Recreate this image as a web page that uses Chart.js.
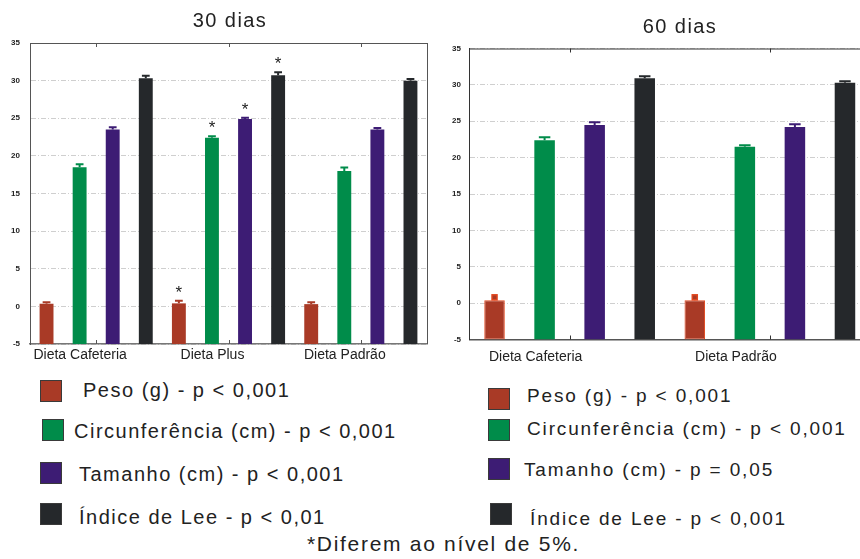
<!DOCTYPE html>
<html><head><meta charset="utf-8">
<script src="https://cdn.jsdelivr.net/npm/chart.js@4.4.0/dist/chart.umd.min.js"></script>
<style>
html,body{margin:0;padding:0;width:860px;height:559px;overflow:hidden;background:#fff;font-family:"Liberation Sans",Arial,sans-serif;position:relative}
.wrap{position:absolute;}
.txt{position:absolute;white-space:nowrap;color:#222;line-height:normal}
.sw{position:absolute;width:22px;height:22px;border:1px solid #3a3a3a;box-sizing:border-box}
</style></head>
<body>
<div class="wrap" id="w30" style="left:0;top:0;width:440px;height:372px"><canvas id="c30"></canvas></div>
<div class="wrap" id="w60" style="left:440px;top:0;width:440px;height:372px"><canvas id="c60"></canvas></div>
<div id="texts"></div>
<script>
// ---- data ----
const yTicks = { min: -5, max: 35, step: 5 };
const seriesNames = ['Peso (g)', 'Circunferência (cm)', 'Tamanho (cm)', 'Índice de Lee'];
const seriesColors = ['#a93a26', '#008c4a', '#3d1c74', '#25282b'];

const categories30 = ['Dieta Cafeteria', 'Dieta Plus', 'Dieta Padrão'];
const peso30 = [0.35, 0.4, 0.3];
const peso30Err = [0.2, 0.35, 0.25];
const circ30 = [18.5, 22.4, 18.0];
const circ30Err = [0.4, 0.2, 0.45];
const tam30 = [23.5, 24.9, 23.5];
const tam30Err = [0.3, 0.15, 0.2];
const lee30 = [30.3, 30.7, 30.0];
const lee30Err = [0.35, 0.4, 0.2];
const pesoSig30 = [false, true, false];
const circSig30 = [false, true, false];
const tamSig30 = [false, true, false];
const leeSig30 = [false, true, false];

const categories60 = ['Dieta Cafeteria', 'Dieta Padrão'];
const peso60 = [0.4, 0.4];
const peso60Err = [0.4, 0.4];
const circ60 = [22.4, 21.5];
const circ60Err = [0.4, 0.2];
const tam60 = [24.5, 24.2];
const tam60Err = [0.35, 0.4];
const lee60 = [30.9, 30.3];
const lee60Err = [0.3, 0.2];

const legend30 = ['Peso (g) - p < 0,001', 'Circunferência (cm) - p < 0,001', 'Tamanho (cm) - p < 0,001', 'Índice de Lee - p < 0,01'];
const legend60 = ['Peso (g) - p < 0,001', 'Circunferência (cm) - p < 0,001', 'Tamanho (cm) - p = 0,05', 'Índice de Lee - p < 0,001'];
const title30 = '30 dias';
const title60 = '60 dias';
const footnote = '*Diferem ao nível de 5%.';

// ---- plugin: error bars, stars, frame, tick marks ----
const overlay = {
  id: 'overlay',
  afterDatasetsDraw(chart) {
    const ctx = chart.ctx, y = chart.scales.y;
    chart.data.datasets.forEach((ds, di) => {
      const meta = chart.getDatasetMeta(di);
      meta.data.forEach((bar, i) => {
        const v = ds.vals[i], e = ds.errs[i];
        const top = y.getPixelForValue(v), et = y.getPixelForValue(v + e);
        const w = bar.width;
        ctx.save();
        if (ds.marker) {
          ctx.strokeStyle = ds.borderColor; ctx.lineWidth = 1.5;
          ctx.beginPath(); ctx.moveTo(bar.x, top); ctx.lineTo(bar.x, et); ctx.stroke();
          ctx.fillStyle = ds.backgroundColor;
          ctx.fillRect(bar.x - 2.5, et - 2.5, 5, 5);
          ctx.strokeRect(bar.x - 2.5, et - 2.5, 5, 5);
        } else {
          ctx.strokeStyle = ds.backgroundColor; ctx.lineWidth = 2;
          ctx.beginPath(); ctx.moveTo(bar.x, top); ctx.lineTo(bar.x, et);
          ctx.moveTo(bar.x - w * 0.28, et); ctx.lineTo(bar.x + w * 0.28, et); ctx.stroke();
        }
        if (ds.sig && ds.sig[i]) {
          ctx.fillStyle = '#222'; ctx.font = '17px "Liberation Sans", Arial';
          ctx.textAlign = 'center'; ctx.textBaseline = 'alphabetic';
          ctx.fillText('*', bar.x, et - 3);
        }
        ctx.restore();
      });
    });
  },
  afterDraw(chart, args, opts) {
    const ctx = chart.ctx, a = chart.chartArea, x = chart.scales.x;
    ctx.save();
    ctx.strokeStyle = opts.frame || '#555'; ctx.lineWidth = 1;
    ctx.beginPath();
    ctx.moveTo(a.left, a.top + 0.5); ctx.lineTo(a.right, a.top + 0.5);
    if (opts.right) { ctx.moveTo(a.right + 0.5, a.top); ctx.lineTo(a.right + 0.5, a.bottom); }
    ctx.stroke();
    ctx.beginPath();
    for (let i = 0; i < chart.data.labels.length; i++) {
      const px = Math.round(x.getPixelForValue(i)) + 0.5;
      ctx.moveTo(px, a.top); ctx.lineTo(px, a.top + 4);
      ctx.moveTo(px, a.bottom); ctx.lineTo(px, a.bottom - 4);
    }
    ctx.stroke();
    ctx.restore();
  }
};

function ds(i, vals, errs, sig, extra) {
  return Object.assign({
    label: seriesNames[i],
    data: vals.map(v => [yTicks.min, v]),
    vals, errs, sig,
    backgroundColor: seriesColors[i],
    borderWidth: 0,
    borderSkipped: false
  }, extra || {});
}

function makeChart(id, labels, datasets, o) {
  return new Chart(document.getElementById(id), {
    type: 'bar',
    data: { labels, datasets },
    options: {
      responsive: true, maintainAspectRatio: false, animation: false,
      layout: { padding: { top: o.top, right: o.right, left: 0, bottom: 0 } },
      datasets: { bar: { barPercentage: o.barPct, categoryPercentage: 1 } },
      plugins: { legend: { display: false }, tooltip: { enabled: false }, overlay: { right: o.frameRight, frame: o.frame } },
      scales: {
        x: {
          grid: { display: false, drawTicks: false },
          border: { display: true, color: o.bottomColor, width: 1.5 },
          ticks: { color: '#222', font: { size: 14, family: '"Liberation Sans", Arial' }, labelOffset: o.labelOffset, padding: o.xPad, maxRotation: 0 },
          afterFit: s => { s.height = o.xHeight; }
        },
        y: {
          min: yTicks.min, max: yTicks.max,
          ticks: { stepSize: yTicks.step, color: '#222', padding: o.yPad, font: { size: 8, weight: 'bold', family: '"Liberation Sans", Arial' } },
          grid: { color: '#cfcfcf', drawTicks: false, lineWidth: 1 },
          border: { display: true, color: o.frame, width: 1, dash: [5, 2, 1, 2] },
          afterFit: s => { s.width = o.yWidth; }
        }
      }
    },
    plugins: [overlay]
  });
}

makeChart('c30', categories30, [
  ds(0, peso30, peso30Err, pesoSig30),
  ds(1, circ30, circ30Err, circSig30),
  ds(2, tam30, tam30Err, tamSig30),
  ds(3, lee30, lee30Err, leeSig30)
], { top: 43, right: 13, barPct: 0.42, labelOffset: -16, xPad: 3, xHeight: 28, yPad: 10, yWidth: 30, frameRight: true, frame: '#555', bottomColor: '#777' });

makeChart('c60', categories60, [
  ds(0, peso60, peso60Err, null, { borderColor: '#e2471e', borderWidth: 1, marker: true }),
  ds(1, circ60, circ60Err, null),
  ds(2, tam60, tam60Err, null),
  ds(3, lee60, lee60Err, null)
], { top: 48.5, right: 10, barPct: 0.41, labelOffset: -34, xPad: 9, xHeight: 32.5, yPad: 8.5, yWidth: 29.5, frameRight: false, frame: '#333', bottomColor: '#555' });

// ---- HTML text: titles, legends, footnote ----
const T = document.getElementById('texts');
function addText(str, left, capCenter, fs, ls, center) {
  const d = document.createElement('div');
  d.className = 'txt';
  d.textContent = str;
  d.style.fontSize = fs + 'px';
  d.style.letterSpacing = ls + 'px';
  d.style.top = (capCenter - 0.547 * fs) + 'px';
  d.style.left = left + 'px';
  if (center) d.style.transform = 'translateX(-50%)';
  T.appendChild(d);
}
function addSwatch(color, left, top) {
  const s = document.createElement('div');
  s.className = 'sw'; s.style.background = color;
  s.style.left = left + 'px'; s.style.top = top + 'px';
  T.appendChild(s);
}
addText(title30, 230, 20, 20, 1.4, true);
addText(title60, 680, 26, 20, 1.4, true);

const sw30 = [[40, 380], [42, 419], [40, 462], [40, 503]];
const tx30 = [[83, 390], [74, 430.5], [79, 474], [79, 517]];
const sw60 = [[488, 388], [488, 419], [488, 458], [490, 503]];
const tx60 = [[527, 395.5], [527, 428], [524, 469.5], [530, 518]];
legend30.forEach((t, i) => { addSwatch(seriesColors[i], sw30[i][0], sw30[i][1]); addText(t, tx30[i][0], tx30[i][1], 20, 1.5); });
legend60.forEach((t, i) => { addSwatch(seriesColors[i], sw60[i][0], sw60[i][1]); addText(t, tx60[i][0], tx60[i][1], 19, 1.85); });
addText(footnote, 443.5, 543, 21, 1.7, true);
</script>
</body></html>
